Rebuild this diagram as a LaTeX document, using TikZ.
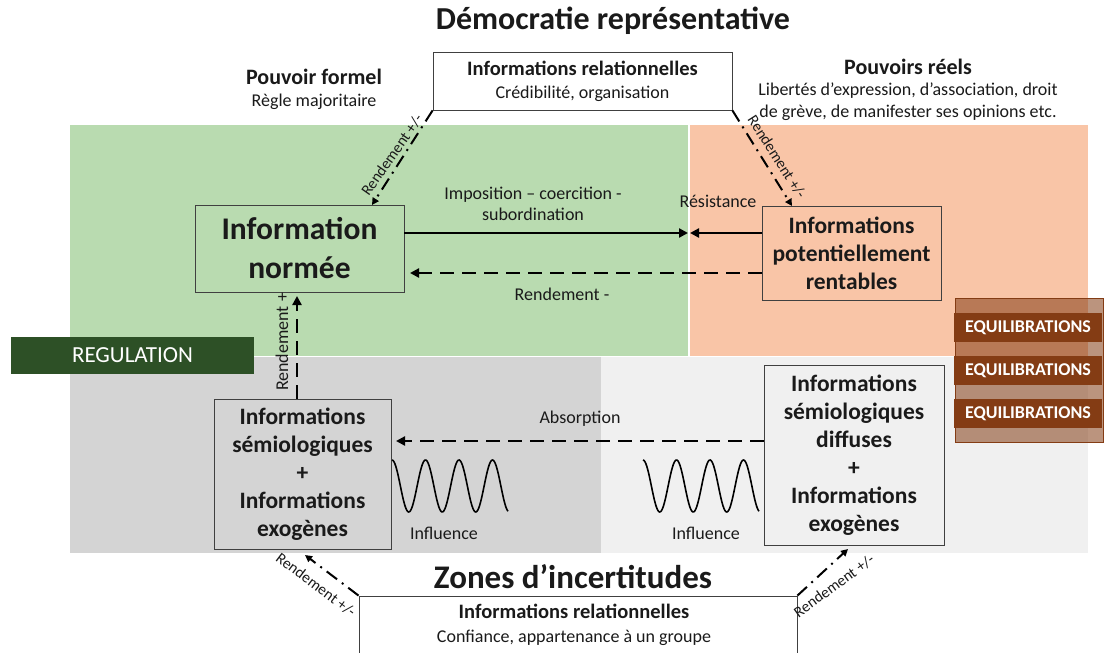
\documentclass[tikz,border=0pt]{standalone}
\usepackage{fontspec}
\setmainfont{Carlito}
\usetikzlibrary{arrows.meta}
\definecolor{cgreen}{HTML}{B9DBB0}
\definecolor{corange}{HTML}{F9C5A7}
\definecolor{cgray}{HTML}{D4D4D4}
\definecolor{clight}{HTML}{F0F0F0}
\definecolor{cdark}{HTML}{2D5026}
\definecolor{cbrown}{HTML}{843C14}
\definecolor{ctext}{HTML}{1A1A1A}
\newcommand{\fs}[2]{\fontsize{#1}{#2}\selectfont}
\begin{document}
\begin{tikzpicture}[x=1pt,y=-1pt,
  every node/.style={text=ctext},
  boxn/.style={draw=black!75,line width=0.8pt,align=center,inner sep=0pt},
  solidarr/.style={line width=2.6pt,-{Triangle[length=9pt,width=9pt]}},
  dasharr/.style={line width=2.6pt,dash pattern=on 14pt off 8pt,-{Triangle[length=9pt,width=9pt]}},
  dotarr/.style={line width=2pt,dash pattern=on 13pt off 6pt on 2pt off 6pt,-{Triangle[length=7pt,width=7pt]}},
  lbl/.style={font=\fs{18}{21}},
  rlbl/.style={font=\fs{15.5}{17},inner sep=0pt},
  equi/.style={fill=cbrown,minimum width=148,minimum height=29,inner sep=0pt,text=white,font=\fs{18}{20}\bfseries},
  wave/.style={line width=1.6pt,smooth}
]
\useasboundingbox (0,0) rectangle (1104,653);
% background areas
\fill[cgreen] (70,125) rectangle (688,356);
\fill[corange] (690,125) rectangle (1088,356);
\fill[cgray] (70,357) rectangle (601,553);
\fill[clight] (601,357) rectangle (1088,553);
% titles
\node[font=\fs{32}{36}\bfseries] (title) at (613,21) {Démocratie représentative};
\node[font=\fs{33}{36}\bfseries] (zones) at (573,577) {Zones d’incertitudes};
\node[font=\fs{22}{24}\bfseries] (pf) at (314,77) {Pouvoir formel};
\node[font=\fs{18}{20}] (pf2) at (314,102) {Règle majoritaire};
\node[font=\fs{22}{24}\bfseries] (pr) at (908,67) {Pouvoirs réels};
\node[font=\fs{18}{22},align=center] (pr2) at (908,102) {Libertés d’expression, d’association, droit\\de grève, de manifester ses opinions etc.};
% boxes
\node[boxn,fill=white,minimum width=299,minimum height=58,font=\fs{18}{23}] (top) at (582.5,81)
  {{\fs{20.5}{23}\bfseries Informations relationnelles}\\Crédibilité, organisation};
\node[boxn,fill=white,minimum width=438,minimum height=58,font=\fs{18}{24}] (bot) at (578,625)
  {\hspace*{-8pt}{\fs{20.5}{24}\bfseries Informations relationnelles}\\\hspace*{-8pt}Confiance, appartenance à un groupe};
\node[boxn,fill=cgreen,minimum width=209,minimum height=87,font=\fs{31.5}{39}\bfseries] (norm) at (299.5,248.5)
  {Information\\normée};
\node[boxn,fill=corange,minimum width=179,minimum height=94,font=\fs{23.5}{28}\bfseries] (pot) at (851.5,253)
  {Informations\\potentiellement\\rentables};
\node[boxn,fill=cgray,minimum width=177,minimum height=150,font=\fs{23.5}{28}\bfseries] (semL) at (302.5,474)
  {Informations\\sémiologiques\\+\\Informations\\exogènes};
\node[boxn,fill=clight,minimum width=180,minimum height=180,font=\fs{23.5}{28}\bfseries] (semR) at (854,455)
  {Informations\\sémiologiques\\diffuses\\+\\Informations\\exogènes};
% REGULATION
\node[fill=cdark,minimum width=243,minimum height=37,inner sep=0pt,text=white,font=\fs{23}{25}] (reg) at (132.5,355.5) {REGULATION};
% EQUILIBRATIONS
\draw[cbrown,line width=1pt,fill=cbrown,fill opacity=0.55] (955,298) rectangle (1103,442);
\node[equi] (e1) at (1028,327.5) {EQUILIBRATIONS};
\node[equi] (e2) at (1028,370.5) {EQUILIBRATIONS};
\node[equi] (e3) at (1028,413.5) {EQUILIBRATIONS};
% arrows
\coordinate (mid1) at (688,233);
\coordinate (mid2) at (690,233);
\draw[solidarr] (norm.east |- mid1) -- (mid1);
\draw[solidarr] (pot.west |- mid2) -- (mid2);
\coordinate (rd) at (410,273);
\draw[dasharr] (pot.west |- rd) -- (rd);
\coordinate (ab) at (396,441);
\draw[dasharr] (semR.west |- ab) -- (ab);
\coordinate (up) at (297,296);
\draw[dasharr] (semL.north -| up) -- (up);
\node[lbl,rotate=90] (rplus) at (282,342) {Rendement +};
\node[lbl,align=center] (imp) at (533,204) {Imposition – coercition -\\subordination};
\node[lbl] (res) at (718,201) {Résistance};
\node[lbl] (rmin) at (562,294) {Rendement -};
\node[lbl] (abs) at (580,419) {Absorption};
% dash-dot arrows
\coordinate (a1) at (372,205);
\coordinate (a2) at (792,206);
\coordinate (a3) at (305,555);
\coordinate (a4) at (848,549);
\draw[dotarr] (top.south west) -- (a1);
\draw[dotarr] (top.south east) -- (a2);
\draw[dotarr] (bot.north west) -- (a3);
\draw[dotarr] (bot.north east) -- (a4);
\node[rlbl,rotate=55] (r1) at (392,155) {Rendement +/-};
\node[rlbl,rotate=-57.5] (r2) at (777,157) {Rendement +/-};
\node[rlbl,rotate=-37] (r3) at (316,585) {Rendement +/-};
\node[rlbl,rotate=36] (r4) at (834,586) {Rendement +/-};
% waves
\draw[wave] plot[domain=0:116,samples=120] ({392+\x},{486-26*cos(10.746*\x)});
\draw[wave] plot[domain=0:116,samples=120] ({643+\x},{486-26*cos(10.746*\x)});
\node[lbl] (inf1) at (444,533) {Influence};
\node[lbl] (inf2) at (706,533) {Influence};
\end{tikzpicture}
\end{document}
